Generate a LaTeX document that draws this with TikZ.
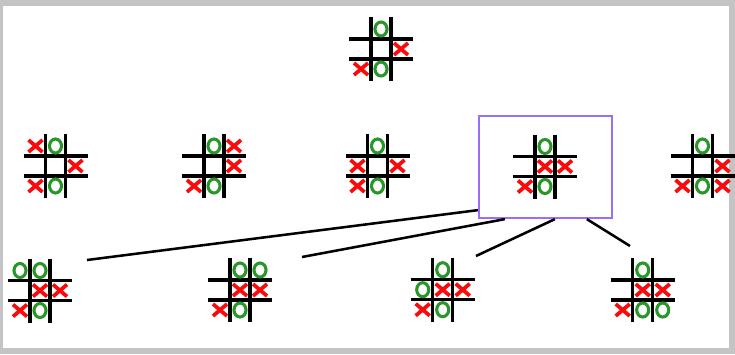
\documentclass[tikz,border=0pt]{standalone}
\usetikzlibrary{calc}
\definecolor{xred}{RGB}{250,10,10}
\definecolor{ogreen}{RGB}{40,150,40}
\definecolor{selpurple}{RGB}{155,110,250}
\definecolor{framegray}{RGB}{196,196,196}
\tikzset{
  gridline/.style={black, line width=2.3pt},
  xstroke/.style={xred, line width=2.8pt},
  ostroke/.style={ogreen, line width=2.3pt},
  selbox/.style={draw=selpurple, line width=1.7pt, minimum width=99.75pt, minimum height=76.5pt, inner sep=0pt},
  treeline/.style={black, line width=1.9pt},
  boardspot/.style={inner sep=0pt, minimum size=48pt}
}
\newcommand\tttboard[4]{%
  \begin{scope}[shift={#2}]
    \node[boardspot] (#1) at (0,0) {};
    \draw[gridline] (-32,-10) -- (32,-10) (-32,10) -- (32,10) (-10,-32) -- (-10,32) (10,-32) -- (10,32);
    \foreach \c/\r in {#3} {\draw[xstroke, shift={({20*\c},{20*\r})}] (-7,-6) -- (7,6) (-7,6) -- (7,-6);}
    \foreach \c/\r in {#4} {\draw[ostroke] ({20*\c},{20*\r}) ellipse [x radius=6, y radius=7];}
  \end{scope}}
\begin{document}
\begin{tikzpicture}[x=0.75pt, y=-0.75pt]
  \useasboundingbox (0,0) rectangle (735,354);
  \fill[framegray] (0,0) rectangle (735,354);
  \fill[white] (3,6) rectangle (729,348);
  % top board
  \tttboard{top}{(381,49)}{1/0, -1/1}{0/-1, 0/1}
  % second row
  \tttboard{ra}{(55.5,166)}{-1/-1, 1/0, -1/1}{0/-1, 0/1}
  \tttboard{rb}{(214,166)}{1/-1, 1/0, -1/1}{0/-1, 0/1}
  \tttboard{rc}{(377.5,166)}{-1/0, 1/0, -1/1}{0/-1, 0/1}
  \tttboard{rd}{(545,166.5)}{0/0, 1/0, -1/1}{0/-1, 0/1}
  \tttboard{re}{(702.5,166)}{1/0, -1/1, 1/1}{0/-1, 0/1}
  % third row
  \tttboard{sa}{(40,290.5)}{0/0, 1/0, -1/1}{-1/-1, 0/-1, 0/1}
  \tttboard{sb}{(240,290)}{0/0, 1/0, -1/1}{0/-1, 1/-1, 0/1}
  \tttboard{sc}{(442.7,289.7)}{0/0, 1/0, -1/1}{0/-1, -1/0, 0/1}
  \tttboard{sd}{(642.7,290)}{0/0, 1/0, -1/1}{0/-1, 0/1, 1/1}
  % selection box
  \node[selbox] (sel) at (545.5,167) {};
  % connector ends
  \coordinate (e1) at (87,260);
  \coordinate (e2) at (302,257);
  \coordinate (e3) at (476,256);
  \coordinate (e4) at (630,246);
  \draw[treeline] ($(sel.south west)+(0,-9)$) -- (e1);
  \draw[treeline] ($(sel.south west)+(27,0)$) -- (e2);
  \draw[treeline] ($(sel.south west)+(77,0)$) -- (e3);
  \draw[treeline] ($(sel.south west)+(109,0)$) -- (e4);
\end{tikzpicture}
\end{document}
